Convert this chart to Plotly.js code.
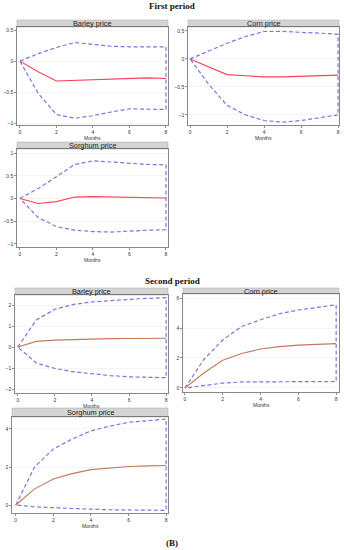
<!DOCTYPE html>
<html><head><meta charset="utf-8">
<script src="https://cdn.plot.ly/plotly-3.0.1.min.js"></script>
<style>html,body{margin:0;padding:0;background:#fff}#c{width:344px;height:550px}</style>
</head><body><div id="c"></div>
<script>
// ---- data ----
const months = [0,1,2,3,4,5,6,7,8];
const panelNames = ["Barley price","Corn price","Sorghum price","Barley price","Corn price","Sorghum price"];

const barley1_irf   = [0,-0.17,-0.32,-0.31,-0.30,-0.29,-0.28,-0.27,-0.28];
const barley1_upper = [0,0.12,0.22,0.30,0.27,0.24,0.23,0.23,0.23];
const barley1_lower = [0,-0.52,-0.86,-0.92,-0.88,-0.82,-0.77,-0.77,-0.78];

const corn1_irf   = [0,-0.14,-0.28,-0.30,-0.32,-0.32,-0.31,-0.30,-0.29];
const corn1_upper = [0,0.14,0.28,0.40,0.49,0.49,0.48,0.46,0.44];
const corn1_lower = [0,-0.45,-0.83,-1.00,-1.10,-1.13,-1.10,-1.05,-1.00];

const sorghum1_irf   = [0,-0.11,-0.07,0.03,0.04,0.03,0.02,0.01,0.01];
const sorghum1_upper = [0,0.22,0.48,0.75,0.83,0.80,0.77,0.75,0.74];
const sorghum1_lower = [0,-0.42,-0.62,-0.70,-0.73,-0.74,-0.72,-0.70,-0.69];

const barley2_irf   = [0,0.27,0.33,0.36,0.38,0.40,0.41,0.42,0.42];
const barley2_upper = [0,1.29,1.80,2.03,2.15,2.22,2.27,2.32,2.35];
const barley2_lower = [0,-0.76,-1.02,-1.18,-1.28,-1.36,-1.42,-1.45,-1.46];

const corn2_irf   = [0,1.00,1.85,2.30,2.60,2.76,2.86,2.92,2.96];
const corn2_upper = [0,1.90,3.20,4.10,4.55,4.95,5.20,5.40,5.55];
const corn2_lower = [0,0.18,0.32,0.40,0.42,0.43,0.43,0.43,0.43];

const sorghum2_irf   = [0,0.85,1.37,1.65,1.86,1.96,2.03,2.06,2.08];
const sorghum2_upper = [0,2.00,2.95,3.47,3.90,4.15,4.35,4.45,4.52];
const sorghum2_lower = [0,-0.10,-0.15,-0.19,-0.22,-0.25,-0.27,-0.28,-0.28];

const yTicks1 = [-1,-0.5,0,0.5];
const yTicks3 = [-1,-0.5,0,0.5,1];
const yTicksB2 = [-2,-1,0,1,2];
const yTicksC2 = [0,2,4,6];
const yTicksS2 = [0,2,4];
const xTicks = [0,2,4,6,8];

// ---- layout geometry (pixels) ----
const W=344, H=550;
const panels = [
  {irf:barley1_irf, up:barley1_upper, lo:barley1_lower, px:[17,168], py:[27,125], hd:20, xr:[-0.16,8.11], yr:[-1.03,0.55], yt:yTicks1, red:'#ff4058'},
  {irf:corn1_irf, up:corn1_upper, lo:corn1_lower, px:[188,339], py:[27,125], hd:20, xr:[-0.11,8.05], yr:[-1.18,0.57], yt:yTicks1, red:'#ff4058'},
  {irf:sorghum1_irf, up:sorghum1_upper, lo:sorghum1_lower, px:[17,168], py:[149,247], hd:142, xr:[-0.16,8.11], yr:[-1.07,1.09], yt:yTicks3, red:'#ff4058'},
  {irf:barley2_irf, up:barley2_upper, lo:barley2_lower, px:[15,168], py:[295,393], hd:288, xr:[-0.15,8.1], yr:[-2.19,2.48], yt:yTicksB2, red:'#c47a5e'},
  {irf:corn2_irf, up:corn2_upper, lo:corn2_lower, px:[183,339], py:[294,392], hd:288, xr:[-0.1,8.15], yr:[-0.27,6.27], yt:yTicksC2, red:'#c47a5e'},
  {irf:sorghum2_irf, up:sorghum2_upper, lo:sorghum2_lower, px:[12,168], py:[417,513], hd:408, xr:[-0.2,8.1], yr:[-0.42,4.63], yt:yTicksS2, red:'#c47a5e'}
];

const data=[], layout={
  width:W, height:H, margin:{l:0,r:0,t:0,b:0},
  paper_bgcolor:'#fff', plot_bgcolor:'#fff', showlegend:false,
  font:{family:'Liberation Sans, Arial, sans-serif', size:5, color:'#333'},
  shapes:[], annotations:[]
};
const blue='#7d75dd';

panels.forEach((p,i)=>{
  const k = i===0?'':String(i+1);
  const xa='x'+k, ya='y'+k;
  // CI band outline: upper then lower reversed (closes at month 8)
  const bx = months.concat(months.slice().reverse());
  const by = p.up.concat(p.lo.slice().reverse());
  data.push({x:bx, y:by, xaxis:xa, yaxis:ya, mode:'lines', type:'scatter',
    line:{color:blue, width:1.2, dash:'4px,2.5px'}, hoverinfo:'skip'});
  data.push({x:months, y:p.irf, xaxis:xa, yaxis:ya, mode:'lines', type:'scatter',
    line:{color:p.red, width:1.1}, hoverinfo:'skip'});
  const axCommon = {showline:true, linecolor:'#555', linewidth:0.7, mirror:true,
    ticks:'outside', ticklen:2, tickwidth:0.6, tickcolor:'#444', zeroline:false,
    tickfont:{size:5, color:'#333'}, fixedrange:true};
  layout['xaxis'+k] = Object.assign({}, axCommon, {
    domain:[p.px[0]/W, p.px[1]/W], range:p.xr, anchor:ya,
    tickmode:'array', tickvals:xTicks, showgrid:false});
  layout['yaxis'+k] = Object.assign({}, axCommon, {
    domain:[1-p.py[1]/H, 1-p.py[0]/H], range:p.yr, anchor:xa,
    tickmode:'array', tickvals:p.yt, showgrid:true, gridcolor:'#ececec', gridwidth:0.6});
  // header strip
  layout.shapes.push({type:'rect', xref:'paper', yref:'paper',
    x0:p.px[0]/W, x1:p.px[1]/W, y0:1-p.py[0]/H, y1:1-p.hd/H,
    fillcolor:'#d4d4d4', line:{color:'#aaa', width:0.5}, layer:'below'});
  layout.annotations.push({xref:'paper', yref:'paper', x:(p.px[0]+p.px[1])/2/W,
    y:1-(p.hd+p.py[0])/2/H, text:panelNames[i], showarrow:false,
    xanchor:'center', yanchor:'middle', font:{size:7.3, color:'#222'}});
  layout.annotations.push({xref:'paper', yref:'paper', x:(p.px[0]+p.px[1])/2/W,
    y:1-(p.py[1]+9)/H, text:'Months', showarrow:false,
    xanchor:'center', yanchor:'top', borderpad:0, font:{size:5, color:'#333'}});
});

const tf = {family:'Liberation Serif, Times New Roman, serif', size:9, color:'#111'};
[['<b>First period</b>',6],['<b>Second period</b>',281],['<b>(B)</b>',543]].forEach(([t,py])=>{
  layout.annotations.push({xref:'paper', yref:'paper', x:172/W, y:1-py/H, text:t,
    showarrow:false, xanchor:'center', yanchor:'middle', font:tf});
});

Plotly.newPlot('c', data, layout, {staticPlot:true, displayModeBar:false});
</script></body></html>
